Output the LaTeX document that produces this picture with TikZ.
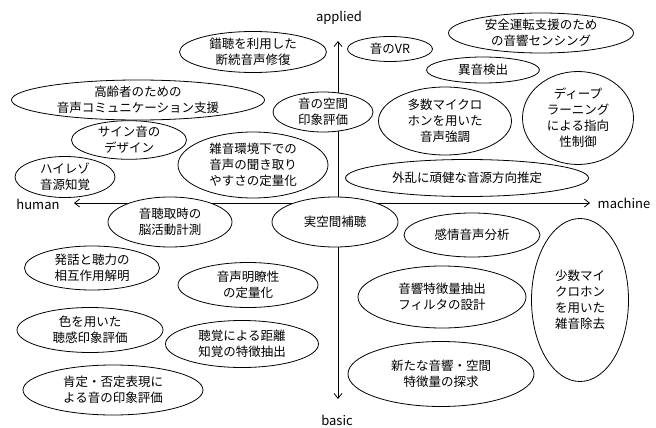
\documentclass[tikz,border=0pt]{standalone}
\usepackage{fontspec}
\setmainfont{Noto Sans CJK JP}
\usetikzlibrary{shapes.geometric,arrows.meta}
\begin{document}
\begin{tikzpicture}[x=1pt,y=-1pt,
  bub/.style={ellipse, draw=black, line width=0.8pt, fill=white, inner sep=0pt, align=center,
    font=\fontsize{12.5}{16}\selectfont},
  axlab/.style={font=\fontsize{13}{15}\selectfont, inner sep=0pt},
  axis/.style={line width=0.8pt, {Straight Barb[length=5pt,width=8pt]}-{Straight Barb[length=5pt,width=8pt]}}
]
\useasboundingbox (0,0) rectangle (656,428);
\coordinate (top) at (338,41);
\coordinate (bottom) at (338,399);
\coordinate (left) at (74,203);
\coordinate (right) at (590,203);
\draw[axis] (bottom) -- (top);
\draw[axis] (left) -- (right);
\node[axlab] (applied) at (339,18) {applied};
\node[axlab] (basic) at (337,420) {basic};
\node[axlab] (human) at (38,204) {human};
\node[axlab] (machine) at (624,203) {machine};

\node[bub, minimum width=147pt, minimum height=41pt] (n1) at (253,52) {錯聴を利用した\\断続音声修復};
\node[bub, minimum width=253pt, minimum height=40pt] (n2) at (138,100) {高齢者のための\\音声コミュニケーション支援};
\node[bub, minimum width=115pt, minimum height=34pt] (n3) at (129,140) {サイン音の\\デザイン};
\node[bub, minimum width=100pt, minimum height=41pt] (n4) at (65,177) {ハイレゾ\\音源知覚};
\node[bub, minimum width=150pt, minimum height=66pt] (n5) at (253,165) {雑音環境下での\\音声の聞き取り\\やすさの定量化};
\node[bub, minimum width=100pt, minimum height=40pt] (n6) at (323,112) {音の空間\\印象評価};
\node[bub, minimum width=85pt, minimum height=25pt] (n7) at (390,49) {音のVR};
\node[bub, minimum width=185pt, minimum height=40pt] (n8) at (541,33) {安全運転支援のため\\の音響センシング};
\node[bub, minimum width=113pt, minimum height=26pt] (n9) at (483,70) {異音検出};
\node[bub, minimum width=133pt, minimum height=68pt] (n10) at (445,121) {多数マイクロ\\ホンを用いた\\音声強調};
\node[bub, minimum width=111pt, minimum height=93pt] (n11) at (578,118) {ディープ\\ラーニング\\による指向\\性制御};
\node[bub, minimum width=243pt, minimum height=37pt] (n12) at (467,178) {外乱に頑健な音源方向推定};
\node[bub, minimum width=124pt, minimum height=50pt] (n13) at (170,222) {音聴取時の\\脳活動計測};
\node[bub, minimum width=126pt, minimum height=50pt] (n14) at (335,222) {実空間補聴};
\node[bub, minimum width=135pt, minimum height=44pt] (n15) at (92,268) {発話と聴力の\\相互作用解明};
\node[bub, minimum width=140pt, minimum height=45pt] (n16) at (248,285) {音声明瞭性\\の定量化};
\node[bub, minimum width=146pt, minimum height=45pt] (n17) at (90,330) {色を用いた\\聴感印象評価};
\node[bub, minimum width=153pt, minimum height=47pt] (n18) at (242,344) {聴覚による距離\\知覚の特徴抽出};
\node[bub, minimum width=180pt, minimum height=50pt] (n19) at (113,390) {肯定・否定表現に\\よる音の印象評価};
\node[bub, minimum width=136pt, minimum height=44pt] (n20) at (472,235) {感情音声分析};
\node[bub, minimum width=168pt, minimum height=62pt] (n21) at (442,297) {音響特徴量抽出\\フィルタの設計};
\node[bub, minimum width=186pt, minimum height=65pt] (n22) at (441,374) {新たな音響・空間\\特徴量の探求};
\node[bub, minimum width=97pt, minimum height=163pt] (n23) at (580,300) {少数マイ\\クロホン\\を用いた\\雑音除去};
\end{tikzpicture}
\end{document}
